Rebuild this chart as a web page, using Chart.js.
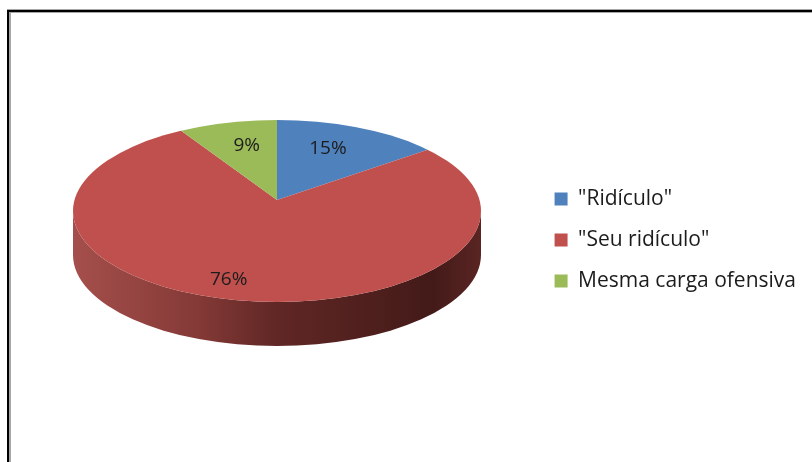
<!DOCTYPE html>
<html>
<head>
<meta charset="utf-8">
<script src="https://cdn.jsdelivr.net/npm/chart.js@4"></script>
<style>
    html, body { margin: 0; background: #fff; overflow: hidden; }
    #wrap { position: relative; width: 812px; height: 462px; overflow: hidden; }
    #grafica { position: absolute; left: 0; top: 0; filter: blur(0.4px); }
    .negro, .gris { position: absolute; }
    .negro { background: #000; }
    .gris { background: #a6a6a6; }
</style>
</head>
<body>
<div id="wrap">
    <canvas id="grafica" width="806" height="462"></canvas>
    <div class="gris" style="left:7px;top:9px;width:805px;height:4px"></div>
    <div class="negro" style="left:7px;top:10px;width:805px;height:2px"></div>
    <div class="gris" style="left:9px;top:12px;width:2px;height:450px"></div>
    <div class="negro" style="left:7px;top:10px;width:2px;height:452px"></div>
</div>
<script>
const categorias = ['"Ridículo"', '"Seu ridículo"', 'Mesma carga ofensiva'];
const valores = [15, 76, 9];
const colores = ['#4F81BD', '#C0504D', '#9BBB59'];

// Falso 3D: el pastel se aplasta y se le dibuja el costado debajo
const vertice = { x: 277, y: 200 };
const borde = { x: 277, y: 211, rx: 204, ry: 91 };
const grosor = 44;
const fuente = '"Open Sans", sans-serif';

const pastel3D = {
    id: 'pastel3D',
    beforeDatasetsDraw(chart) {
        const ctx = chart.ctx;
        const arcos = chart.getDatasetMeta(0).data;
        const sombra = ctx.createLinearGradient(borde.x - borde.rx, 0, borde.x + borde.rx, 0);
        sombra.addColorStop(0, '#A54F4C');
        sombra.addColorStop(0.3, '#853A37');
        sombra.addColorStop(0.5, '#602725');
        sombra.addColorStop(0.88, '#431A18');
        sombra.addColorStop(1, '#5A2523');

        ctx.save();
        arcos.forEach(function(arco) {
            const ini = Math.max(arco.startAngle, 0);
            const fin = Math.min(arco.endAngle, Math.PI);
            if (ini >= fin) return;
            ctx.beginPath();
            ctx.ellipse(borde.x, borde.y, borde.rx, borde.ry, 0, ini, fin);
            ctx.ellipse(borde.x, borde.y + grosor, borde.rx, borde.ry, 0, fin, ini, true);
            ctx.closePath();
            ctx.fillStyle = sombra;
            ctx.fill();
        });
        ctx.beginPath();
        ctx.ellipse(borde.x, borde.y, borde.rx, borde.ry, 0, 0, Math.PI * 2);
        ctx.clip();
        ctx.translate(vertice.x, vertice.y);
        ctx.scale(1.2, 0.55);
        ctx.translate(-arcos[0].x, -arcos[0].y);
    },
    afterDatasetsDraw(chart) {
        const ctx = chart.ctx;
        ctx.restore();
        const ajustes = [[0, -1], [-18, 0], [1, -1]];
        const alcance = [0.5, 0.72, 0.5];
        ctx.save();
        ctx.font = '19px ' + fuente;
        ctx.fillStyle = '#1c1c1c';
        ctx.textAlign = 'center';
        ctx.textBaseline = 'middle';
        chart.getDatasetMeta(0).data.forEach(function(arco, i) {
            const medio = (arco.startAngle + arco.endAngle) / 2;
            const x = vertice.x + Math.cos(medio) * arco.outerRadius * 1.1 * alcance[i] + ajustes[i][0];
            const y = vertice.y + Math.sin(medio) * arco.outerRadius * 0.55 * alcance[i] + ajustes[i][1];
            ctx.fillText(valores[i] + '%', x, y);
        });
        ctx.restore();
    }
};

new Chart(document.getElementById('grafica').getContext('2d'), {
    type: 'pie',
    data: {
        labels: categorias,
        datasets: [{
            data: valores,
            backgroundColor: colores,
            borderWidth: 0,
            clip: false
        }]
    },
    options: {
        responsive: false,
        animation: false,
        layout: { padding: { top: 36, bottom: 18 } },
        plugins: {
            tooltip: { enabled: false },
            legend: {
                position: 'right',
                labels: {
                    boxWidth: 13,
                    boxHeight: 13,
                    padding: 20,
                    color: '#1c1c1c',
                    font: { family: fuente, size: 21 }
                }
            }
        }
    },
    plugins: [pastel3D]
});
</script>
</body>
</html>
